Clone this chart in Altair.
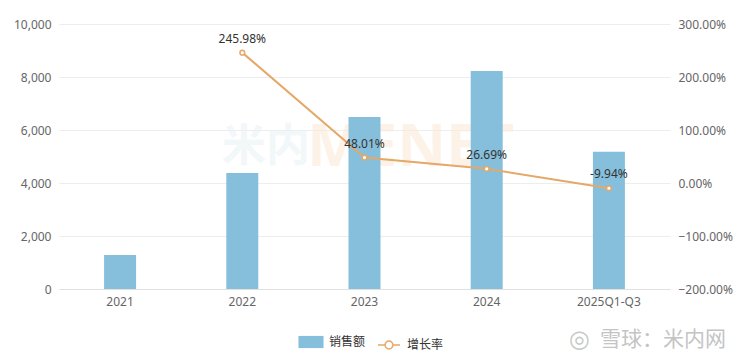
import altair as alt
import pandas as pd

years = ["2021", "2022", "2023", "2024", "2025Q1-Q3"]
sales = [1280, 4380, 6490, 8230, 5180]
growth_years = ["2022", "2023", "2024", "2025Q1-Q3"]
growth = [245.98, 48.01, 26.69, -9.94]

FONT = "Noto Sans, Noto Sans CJK SC"
BAR_C = "#86BFDC"
LINE_C = "#E5A868"

bar_df = pd.DataFrame({"year": years, "sales": sales, "s": ["销售额"] * len(years)})
line_df = pd.DataFrame({"year": growth_years, "growth": growth, "g": ["增长率"] * len(growth_years)})
line_df["label"] = [f"{v:.2f}%" for v in growth]
wm_df = pd.DataFrame({"t": ["雪球：米内网"], "icon": ["◎"]})
wm2_df = pd.DataFrame({"a": ["米内"], "b": ["MENET"]})

xenc = alt.X("year:N", sort=years, title=None,
             scale=alt.Scale(paddingInner=0, paddingOuter=0),
             axis=alt.Axis(labelAngle=0, ticks=False, domainColor="#E0E0E0",
                           labelColor="#666666", labelFontSize=12, labelPadding=7,
                           labelFont=FONT))

bars = alt.Chart(bar_df).mark_bar(size=32).encode(
    x=xenc,
    y=alt.Y("sales:Q", title=None,
            scale=alt.Scale(domain=[0, 10000]),
            axis=alt.Axis(values=[0, 2000, 4000, 6000, 8000, 10000], format=",.0f",
                          domain=False, ticks=False, gridColor="#EDEDED",
                          labelColor="#666666", labelFontSize=12, labelPadding=8,
                          labelFont=FONT)),
    color=alt.Color("s:N", title=None,
                    scale=alt.Scale(domain=["销售额"], range=[BAR_C]),
                    legend=alt.Legend(orient="none", legendX=243, legendY=309,
                                      symbolType="M-1.4,-0.68 L1.4,-0.68 L1.4,0.68 L-1.4,0.68 Z",
                                      symbolSize=320, labelOffset=9,
                                      labelFontSize=12, labelColor="#333333",
                                      labelFont=FONT, symbolStrokeWidth=0)),
)

yscale = alt.Scale(domain=[-200, 300])
yaxis = alt.Axis(orient="right", values=[-200, -100, 0, 100, 200, 300],
                 labelExpr="format(datum.value, '.2f') + '%'",
                 domain=False, ticks=False, grid=False,
                 labelColor="#666666", labelFontSize=12, labelPadding=8,
                 labelFont=FONT)
yr = alt.Y("growth:Q", title=None, scale=yscale, axis=yaxis)

line = alt.Chart(line_df).mark_line(strokeWidth=2, color=LINE_C).encode(
    x=alt.X("year:N", sort=years),
    y=yr,
    stroke=alt.Stroke("g:N", title=None,
                      scale=alt.Scale(domain=["增长率"], range=[LINE_C]),
                      legend=alt.Legend(orient="none", legendX=318, legendY=309,
                                        symbolType="M-1,0 L-0.36,0 M0.36,0 L1,0 M0.36,0 A0.36,0.36 0 1 1 -0.36,0 A0.36,0.36 0 1 1 0.36,0",
                                        symbolSize=484, symbolStrokeWidth=1.5,
                                        symbolFillColor="white", labelOffset=6,
                                        labelFontSize=12, labelColor="#333333",
                                        labelFont=FONT)),
)

pts = alt.Chart(line_df).mark_point(shape="circle", filled=True, fill="white",
                                    stroke=LINE_C, strokeWidth=1.5, size=22, opacity=1).encode(
    x=alt.X("year:N", sort=years),
    y=yr,
)

labels = alt.Chart(line_df).mark_text(dy=-14, fontSize=12, color="#333333", font=FONT).encode(
    x=alt.X("year:N", sort=years),
    y=yr,
    text="label:N",
)

wm_a = alt.Chart(wm2_df).mark_text(fontSize=44, fontWeight="bold", color="#EAF2F7",
                                   align="left", font="Noto Sans CJK SC", opacity=0.6).encode(
    x=alt.value(163), y=alt.value(124), text="a:N")
wm_b = alt.Chart(wm2_df).mark_text(fontSize=60, fontWeight="bold", color="#FCEBDA",
                                   align="left", font=FONT, opacity=0.6).encode(
    x=alt.value(248), y=alt.value(124), text="b:N")

wm_icon = alt.Chart(wm_df).mark_text(fontSize=24, color="#C8C8C8", align="left",
                                     font="DejaVu Sans").encode(
    x=alt.value(510), y=alt.value(316), text="icon:N")
watermark = alt.Chart(wm_df).mark_text(fontSize=21, color="#C4C4C4", align="left",
                                       font="Noto Sans CJK SC").encode(
    x=alt.value(541), y=alt.value(316), text="t:N")

left = alt.layer(wm_a, wm_b, bars)
right = alt.layer(line, pts, labels, wm_icon, watermark)

chart = alt.layer(left, right).resolve_scale(y="independent", color="independent", stroke="independent").properties(
    width=611, height=265,
    background="white",
    autosize=alt.AutoSizeParams(type="none"),
    padding={"left": 51, "top": 16, "right": 71, "bottom": 72},
).configure_view(strokeWidth=0, stroke="transparent")

chart.save("out.html", embed_options={"renderer": "svg", "actions": False})
